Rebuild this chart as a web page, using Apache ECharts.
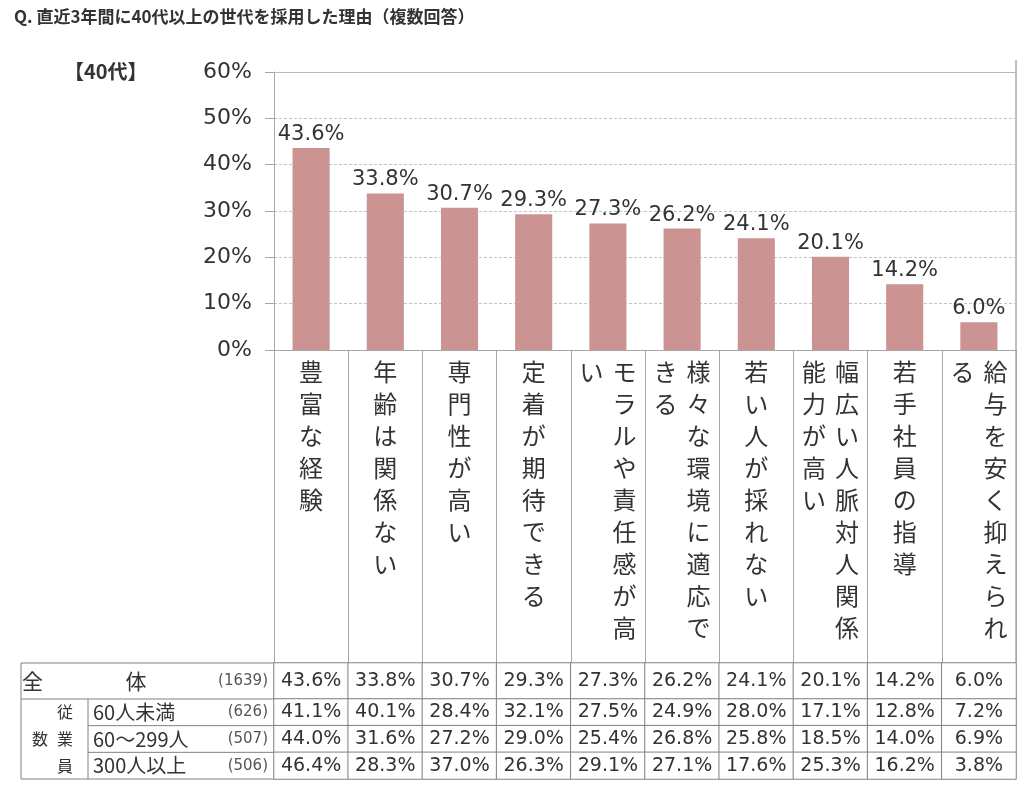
<!DOCTYPE html>
<html><head><meta charset="utf-8">
<script src="https://cdn.jsdelivr.net/npm/echarts@6/dist/echarts.min.js"></script>
<style>html,body{margin:0;padding:0;background:#fff}#c{width:1024px;height:792px}</style>
</head><body><div id="c"></div>
<script>
const titleText = 'Q. 直近3年間に40代以上の世代を採用した理由（複数回答）';
const panelLabel = '【40代】';
const categories = ['豊富な経験','年齢は関係ない','専門性が高い','定着が期待できる','モラルや責任感が高い','様々な環境に適応できる','若い人が採れない','幅広い人脈対人関係能力が高い','若手社員の指導','給与を安く抑えられる'];
const totalValues = [43.6,33.8,30.7,29.3,27.3,26.2,24.1,20.1,14.2,6.0];
const under60Values = [41.1,40.1,28.4,32.1,27.5,24.9,28.0,17.1,12.8,7.2];
const mid60to299Values = [44.0,31.6,27.2,29.0,25.4,26.8,25.8,18.5,14.0,6.9];
const over300Values = [46.4,28.3,37.0,26.3,29.1,27.1,17.6,25.3,16.2,3.8];
const totalLabel = '全体';
const totalN = 1639;
const groupHeader = '従業員数';
const groupLabels = ['60人未満','60～299人','300人以上'];
const groupN = [626,507,506];
const yMin = 0, yMax = 60, yInterval = 10;

const CJK = 'Noto Sans CJK JP';
const NUM = 'DejaVu Sans';
const TXT = '#333';
const LINE = '#a6a6a6';
const TLINE = '#808080';
const BAR = '#cc9393';

// layout
const L = 274, R = 1016, TOP = 72, AXB = 350, TT = 663, R1 = 699, TB = 779, TL = 21, TM = 88;

function vertical(label){
  const per = 9, cols = [];
  for (let i = 0; i < label.length; i += per) cols.push(label.slice(i, i + per));
  const n = cols[0].length, lines = [];
  for (let r = 0; r < n; r++) {
    let line = '';
    for (let c = cols.length - 1; c >= 0; c--) line += '{c|' + (cols[c][r] || '\u3000') + '}';
    lines.push(line);
  }
  return lines.join('\n');
}
const pct = v => v.toFixed(1) + '%';

const groupRows = [under60Values, mid60to299Values, over300Values];
const t1Data = totalValues.map((v, i) => [i, 0, v]);
const t2Data = [];
groupRows.forEach((row, r) => row.forEach((v, i) => t2Data.push([i, r, v])));
const hdrRight = groupHeader.slice(0, 3).split('');
const hdrLeft = ['\u3000', groupHeader[3], '\u3000'];

const rowH = (TB - R1) / 3;
const frameLines = [
  [[TL, TT], [L, TT]], [[TL, R1], [L, R1]], [[TM, R1 + rowH], [L, R1 + rowH]],
  [[TM, R1 + 2 * rowH], [L, R1 + 2 * rowH]], [[TL, TB], [L, TB]],
  [[TL, TT], [TL, TB]], [[TM, R1], [TM, TB]], [[R, 60], [R, TT]]
].map(p => ({ type: 'polyline', shape: { points: p }, style: { stroke: TLINE, lineWidth: 1, fill: null }, silent: true }));

const chart = echarts.init(document.getElementById('c'), null, { renderer: 'canvas' });
chart.setOption({
  animation: false,
  backgroundColor: '#fff',
  title: [
    { text: titleText, left: 14, top: 8, padding: 0, textStyle: { fontFamily: CJK, fontSize: 17, fontWeight: 'bold', color: TXT } },
    { text: panelLabel, left: 64, top: 61, padding: 0, textStyle: { fontFamily: CJK, fontSize: 20, fontWeight: 'bold', color: TXT } }
  ],
  grid: [
    { left: L, right: 1024 - R, top: TOP, height: AXB - TOP, outerBoundsMode: 'none', containLabel: false },
    { left: L, right: 1024 - R, top: TT, height: R1 - TT, outerBoundsMode: 'none', containLabel: false },
    { left: L, right: 1024 - R, top: R1, height: TB - R1, outerBoundsMode: 'none', containLabel: false }
  ],
  xAxis: [
    { type: 'category', gridIndex: 0, data: categories,
      axisLine: { show: true, lineStyle: { color: LINE, width: 1 } },
      axisTick: { show: true, interval: 0, alignWithLabel: false, length: TT - AXB, lineStyle: { color: LINE, width: 1 } },
      axisLabel: { interval: 0, margin: 6, formatter: vertical,
        rich: { c: { width: 33, align: 'center', fontFamily: CJK, fontSize: 24, lineHeight: 32, color: TXT } } } },
    { type: 'category', gridIndex: 0, position: 'top', data: categories,
      axisLine: { show: true, lineStyle: { color: '#b8b8b8', width: 1 } }, axisTick: { show: false }, axisLabel: { show: false } },
    { type: 'category', gridIndex: 1, data: categories, show: false },
    { type: 'category', gridIndex: 2, data: categories, show: false }
  ],
  yAxis: [
    { type: 'value', gridIndex: 0, min: yMin, max: yMax, interval: yInterval,
      axisLine: { show: true, lineStyle: { color: LINE } },
      axisTick: { show: true, length: 9, lineStyle: { color: LINE } },
      splitLine: { show: true, lineStyle: { color: '#c4c4c4', type: [3, 2] } },
      axisLabel: { margin: 22, formatter: '{value}%', fontFamily: NUM, fontSize: 22, color: TXT } },
    { type: 'category', gridIndex: 1, data: [totalLabel],
      axisLine: { show: false }, axisTick: { show: false }, splitLine: { show: false },
      axisLabel: { margin: 6, formatter: v => '{a|' + v[0] + '}{b|' + v.slice(1) + '}{n|(' + totalN + ')}',
        rich: {
          a: { width: 88, align: 'left', fontFamily: CJK, fontSize: 21, color: TXT },
          b: { width: 52, align: 'center', fontFamily: CJK, fontSize: 21, color: TXT },
          n: { width: 106, align: 'right', fontFamily: NUM, fontSize: 15, color: '#555' }
        } } },
    { type: 'category', gridIndex: 2, data: groupLabels, inverse: true,
      axisLine: { show: false }, axisTick: { show: false }, splitLine: { show: false },
      axisLabel: { margin: 6, formatter: (v, i) => '{s|' + hdrLeft[i] + '}{s|' + hdrRight[i] + '}{p|\u3000}{a|' + v + '}{n|(' + groupN[i] + ')}',
        rich: {
          s: { width: 25, align: 'left', fontFamily: CJK, fontSize: 16, color: TXT },
          p: { width: 11, align: 'left', fontSize: 8 },
          a: { width: 127, align: 'left', fontFamily: CJK, fontSize: 20, color: TXT },
          n: { width: 48, align: 'right', fontFamily: NUM, fontSize: 15, color: '#555' }
        } } }
  ],
  series: [
    { type: 'bar', xAxisIndex: 0, yAxisIndex: 0, data: totalValues, barWidth: '50%',
      itemStyle: { color: BAR },
      label: { show: true, position: 'top', distance: 3, formatter: p => pct(p.value), fontFamily: NUM, fontSize: 21, color: TXT } },
    { type: 'heatmap', xAxisIndex: 2, yAxisIndex: 1, data: t1Data,
      itemStyle: { color: '#fff', borderColor: TLINE, borderWidth: 1 },
      label: { show: true, formatter: p => pct(p.value[2]), fontFamily: NUM, fontSize: 19, color: TXT } },
    { type: 'heatmap', xAxisIndex: 3, yAxisIndex: 2, data: t2Data,
      itemStyle: { color: '#fff', borderColor: TLINE, borderWidth: 1 },
      label: { show: true, formatter: p => pct(p.value[2]), fontFamily: NUM, fontSize: 19, color: TXT } }
  ],
  graphic: frameLines
});
</script></body></html>
